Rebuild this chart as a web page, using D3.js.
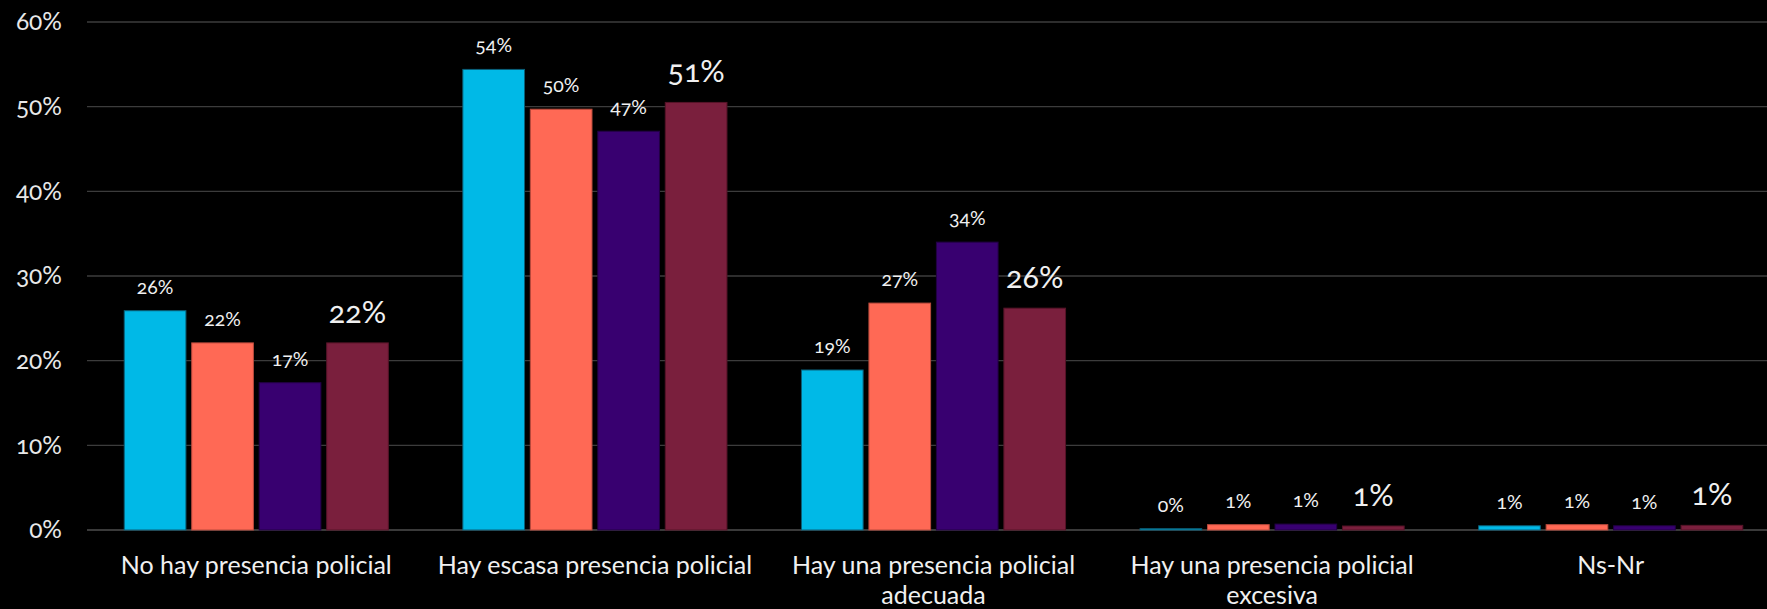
<!DOCTYPE html>
<html><head><meta charset="utf-8">
<script src="https://cdn.jsdelivr.net/npm/d3@7"></script>
<style>
html,body{margin:0;padding:0;background:#000;}
svg{display:block;font-family:Lato,"Open Sans",sans-serif;font-variant-numeric:oldstyle-nums;font-feature-settings:"onum" 1;}
</style></head><body>
<svg id="chart" width="1767" height="609"></svg>
<script>
const categories = [
  ["No hay presencia policial"],
  ["Hay escasa presencia policial"],
  ["Hay una presencia policial", "adecuada"],
  ["Hay una presencia policial", "excesiva"],
  ["Ns-Nr"]
];
const seriesA = [25.9, 54.4, 18.9, 0.15, 0.5];
const seriesB = [22.1, 49.7, 26.8, 0.63, 0.63];
const seriesC = [17.4, 47.1, 34.0, 0.7, 0.5];
const seriesD = [22.1, 50.5, 26.2, 0.47, 0.55];
const labelsA = ["26%", "54%", "19%", "0%", "1%"];
const labelsB = ["22%", "50%", "27%", "1%", "1%"];
const labelsC = ["17%", "47%", "34%", "1%", "1%"];
const labelsD = ["22%", "51%", "26%", "1%", "1%"];
const yTicks = [0, 10, 20, 30, 40, 50, 60];

const series = [
  {vals: seriesA, labels: labelsA, fill: "#00B9E7", stroke: "#0a5f78", big: false},
  {vals: seriesB, labels: labelsB, fill: "#FF6955", stroke: "#b84a3c", big: false},
  {vals: seriesC, labels: labelsC, fill: "#380070", stroke: "#220045", big: false},
  {vals: seriesD, labels: labelsD, fill: "#7A1F3D", stroke: "#561428", big: true}
];

const svg = d3.select("#chart");
const mLeft = 87, mRight = 1780, mTop = 22, mBottom = 530;

const x0 = d3.scaleBand().domain(d3.range(categories.length)).range([mLeft, mRight]).paddingInner(0.22).paddingOuter(0.11);
const x1 = d3.scaleBand().domain(d3.range(series.length)).range([0, x0.bandwidth()]).paddingInner(0.086);
const y = d3.scaleLinear().domain([0, 60]).range([mBottom, mTop]);

// gridlines
svg.append("g").selectAll("line").data(yTicks).join("line")
  .attr("x1", mLeft).attr("x2", 1767)
  .attr("y1", d => y(d)).attr("y2", d => y(d))
  .attr("stroke", d => d === 0 ? "#3a3a3a" : "#3c3c3c")
  .attr("stroke-width", d => d === 0 ? 2 : 1.3);

// y axis labels
const yAxis = d3.axisLeft(y).tickValues(yTicks).tickFormat(d => d + "%").tickSize(0).tickPadding(0);
const ya = svg.append("g").attr("transform", `translate(62,0)`).call(yAxis);
ya.select(".domain").remove();
ya.selectAll("text").attr("fill", "#e8e8e8").attr("font-size", 24.5).attr("font-family", "Lato, sans-serif");

// bars
series.forEach((s, si) => {
  const g = svg.append("g");
  g.selectAll("rect").data(s.vals).join("rect")
    .attr("x", (d, i) => x0(i) + x1(si))
    .attr("width", x1.bandwidth())
    .attr("y", d => y(d))
    .attr("height", d => mBottom - y(d))
    .attr("fill", s.fill)
    .attr("stroke", s.stroke)
    .attr("stroke-width", 1);
  g.selectAll("text").data(s.vals).join("text")
    .attr("x", (d, i) => x0(i) + x1(si) + x1.bandwidth() / 2)
    .attr("y", d => y(d) - (s.big ? 28 : 22))
    .attr("text-anchor", "middle")
    .attr("dominant-baseline", "middle")
    .attr("fill", "#f0f0f0")
    .attr("font-size", s.big ? 30.5 : 19.5)
    .text((d, i) => s.labels[i]);
});

// category labels
const cg = svg.append("g");
categories.forEach((lines, i) => {
  const t = cg.append("text")
    .attr("x", x0(i) + x0.bandwidth() / 2)
    .attr("y", 574)
    .attr("text-anchor", "middle")
    .attr("fill", "#f0f0f0")
    .attr("font-size", 25);
  lines.forEach((ln, li) => {
    t.append("tspan").attr("x", x0(i) + x0.bandwidth() / 2).attr("dy", li === 0 ? 0 : 30).text(ln);
  });
});
</script>
</body></html>
